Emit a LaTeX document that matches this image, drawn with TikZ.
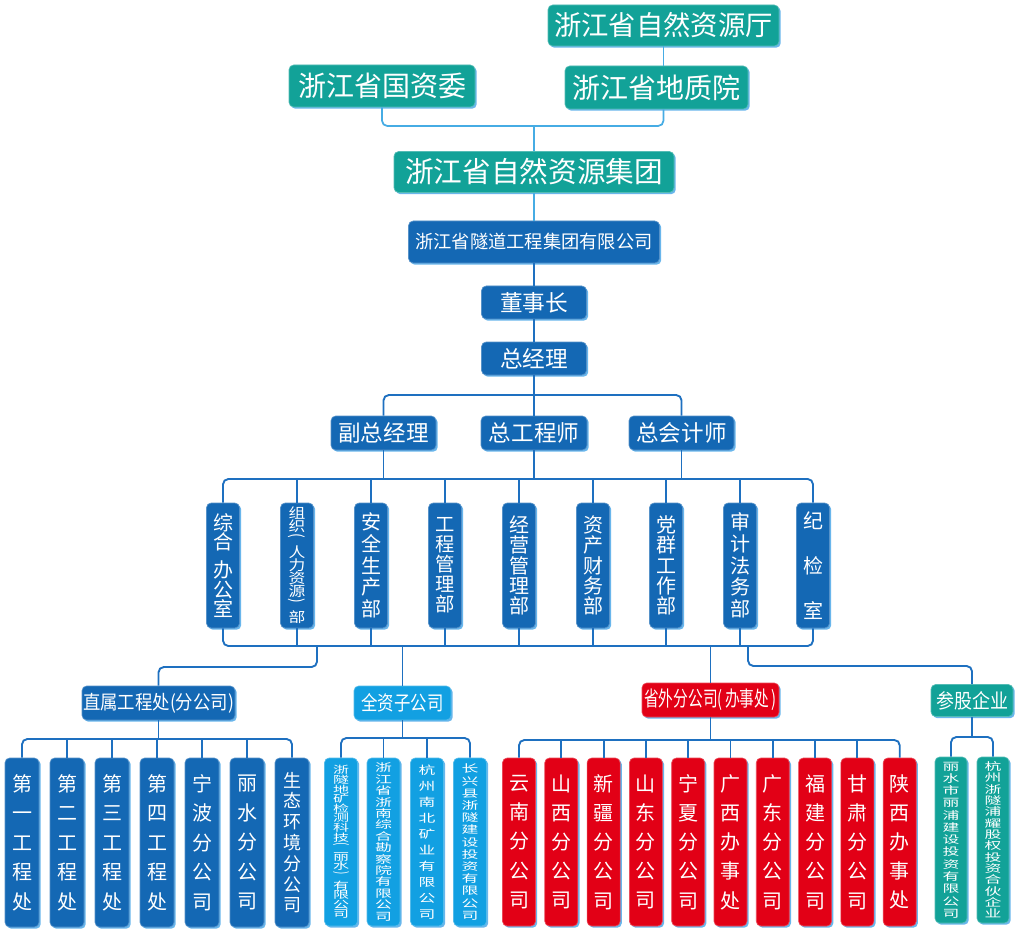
\documentclass[tikz,border=0pt]{standalone}
\usepackage{fontspec}
\usepackage{graphicx}
\setmainfont{Noto Sans CJK SC}
\usetikzlibrary{shadows}
\definecolor{teal1}{RGB}{18,162,152}
\definecolor{blue1}{RGB}{20,104,180}
\definecolor{lblue}{RGB}{18,160,226}
\definecolor{red1}{RGB}{226,0,22}
\definecolor{lineblue}{RGB}{30,112,192}
\definecolor{linecyan}{RGB}{70,172,228}
\definecolor{shad}{RGB}{105,182,236}
\newlength\vgapamt \setlength\vgapamt{6.5pt}
\def\vgap{}
\def\vlp{\raisebox{0.3em}{\rotatebox[origin=c]{-90}{(}}}
\def\vrp{\raisebox{0.3em}{\rotatebox[origin=c]{-90}{)}}}
\def\vstkA#1{\ifx#1\relax\else\ifx#1\vgap\vskip\vgapamt\relax\else\hbox to 0pt{\hss#1\hss}\fi\expandafter\vstkA\fi}
\newcommand\vstk[1]{\vbox{\lineskiplimit=-\maxdimen\lineskip=0pt\vstkA#1\relax}}
\newcommand\vst[2]{\scalebox{#1}[1]{\vstk{#2}}}
\newcommand\hx[2]{\scalebox{#1}[1]{#2}}
\tikzset{
  ob/.style={rectangle, rounded corners=3.5pt, fill=#1, draw=#1!72!white, line width=0.5pt,
    text=white, inner sep=0pt,
    drop shadow={shadow xshift=1.3pt, shadow yshift=-1.3pt, fill=shad, opacity=1}},
  sz/.style 2 args={minimum width={(#1)*0.75pt}, minimum height={(#2)*0.75pt}},
  conn/.style={draw=lineblue, line width=1.4pt, rounded corners=4pt},
  connc/.style={draw=linecyan, line width=1.3pt, rounded corners=4pt},
  dept/.style={ob=blue1, sz={33}{125}, font=\fontsize{15}{16.3}\selectfont},
  zkid/.style={ob=blue1, sz={34}{169}, font=\fontsize{15}{22.1}\selectfont},
  qkid/.style={ob=lblue, sz={33}{168}},
  rkid/.style={ob=red1, sz={33}{168}, font=\fontsize{15}{21.9}\selectfont},
  tkid/.style={ob=teal1, sz={32}{166}},
}
\begin{document}
\begin{tikzpicture}[x=0.75pt,y=-0.75pt]
\fill[white] (0,0) rectangle (1021,934);
\useasboundingbox (0,0) rectangle (1021,934);

% ---------- top ----------
\node[ob=teal1, sz={231}{41}, font=\fontsize{20.5}{24}\selectfont] (ting) at (663.5,25.5) {浙江省自然资源厅};
\node[ob=teal1, sz={186}{42}, font=\fontsize{21}{24}\selectfont] (gzw) at (382,86) {浙江省国资委};
\node[ob=teal1, sz={183}{43}, font=\fontsize{21}{24}\selectfont] (dzy) at (656.5,87.5) {浙江省地质院};
\node[ob=teal1, sz={280}{41}, font=\fontsize{21.5}{24}\selectfont] (jt) at (534,172) {浙江省自然资源集团};
\node[ob=blue1, sz={251}{42}, font=\fontsize{13.7}{16}\selectfont] (sd) at (534,242) {浙江省隧道工程集团有限公司};
\node[ob=blue1, sz={105}{33}, font=\fontsize{17}{20}\selectfont] (dsz) at (534,302.5) {董事长};
\node[ob=blue1, sz={105}{33}, font=\fontsize{17}{20}\selectfont] (zjl) at (534,358.5) {总经理};
\node[ob=blue1, sz={105}{34}, font=\fontsize{16.9}{20}\selectfont] (fz) at (383.5,433) {副总经理};
\node[ob=blue1, sz={106}{34}, font=\fontsize{16.9}{20}\selectfont] (zgc) at (534,433) {总工程师};
\node[ob=blue1, sz={105}{34}, font=\fontsize{16.9}{20}\selectfont] (zkj) at (681.5,433) {总会计师};

% ---------- departments ----------
\node[dept, font=\fontsize{15}{14.6}\selectfont] (d1) at (223,565.5) {\vstk{综合\vgap 办公室}};
\node[dept, font=\fontsize{10.5}{9.75}\selectfont] (d2) at (297,565.5) {\vst{1.2}{组织\vlp 人力资源\vrp 部}};
\node[dept] (d3) at (371,565.5) {\vstk{安全生产部}};
\node[dept, font=\fontsize{14.5}{15}\selectfont] (d4) at (445,565.5) {\vstk{工程管理部}};
\node[dept, font=\fontsize{15}{15.3}\selectfont] (d5) at (519,565.5) {\vstk{经营管理部}};
\node[dept, font=\fontsize{15}{15.3}\selectfont] (d6) at (593,565.5) {\vstk{资产财务部}};
\node[dept, font=\fontsize{15}{15.3}\selectfont] (d7) at (666,565.5) {\vstk{党群工作部}};
\node[dept] (d8) at (740,565.5) {\vstk{审计法务部}};
\node[dept, font=\fontsize{15}{34}\selectfont] (d9) at (813,565.5) {\vstk{纪检室}};

% ---------- second level groups ----------
\node[ob=blue1, sz={153}{34}, font=\fontsize{14.5}{17}\selectfont] (zs) at (158.5,703) {\hx{0.9}{直属工程处(分公司)}};
\node[ob=lblue, sz={97}{34}, font=\fontsize{15}{17}\selectfont] (qz) at (402.5,703) {\hx{0.82}{全资子公司}};
\node[ob=red1, sz={137}{34}, font=\fontsize{15.75}{17}\selectfont] (sw) at (710.5,700) {\hx{0.7}{省外分公司(\,办事处\,)}};
\node[ob=teal1, sz={82}{32}, font=\fontsize{15}{17}\selectfont] (cg) at (972,700.5) {\hx{0.9}{参股企业}};

% ---------- children ----------
\node[zkid] (z1) at (22,842.5) {\vstk{第一工程处}};
\node[zkid] (z2) at (67,842.5) {\vstk{第二工程处}};
\node[zkid] (z3) at (112,842.5) {\vstk{第三工程处}};
\node[zkid] (z4) at (157,842.5) {\vstk{第四工程处}};
\node[zkid] (z5) at (202,842.5) {\vstk{宁波分公司}};
\node[zkid] (z6) at (247,842.5) {\vstk{丽水分公司}};
\node[zkid, font=\fontsize{13.5}{15.6}\selectfont] (z7) at (292,842.5) {\vstk{生态环境分公司}};

\node[qkid, font=\fontsize{7.5}{7.2}\selectfont] (q1) at (341,842) {\vst{1.6}{浙隧地矿检测科技\vlp 丽水\vrp 有限公司}};
\node[qkid, font=\fontsize{7.9}{8.55}\selectfont] (q2) at (383.5,842) {\vst{1.6}{浙江省浙南综合勘察院有限公司}};
\node[qkid, font=\fontsize{8.4}{12}\selectfont] (q3) at (427,842) {\vst{1.5}{杭州南北矿业有限公司}};
\node[qkid, font=\fontsize{7.9}{9.15}\selectfont] (q4) at (470,842) {\vst{1.6}{长兴县浙隧建设投资有限公司}};

\node[rkid] (r1) at (519,842) {\vstk{云南分公司}};
\node[rkid] (r2) at (561.3,842) {\vstk{山西分公司}};
\node[rkid] (r3) at (603.6,842) {\vstk{新疆分公司}};
\node[rkid] (r4) at (645.9,842) {\vstk{山东分公司}};
\node[rkid] (r5) at (688.2,842) {\vstk{宁夏分公司}};
\node[rkid] (r6) at (730.5,842) {\vstk{广西办事处}};
\node[rkid] (r7) at (772.8,842) {\vstk{广东分公司}};
\node[rkid] (r8) at (815.1,842) {\vstk{福建分公司}};
\node[rkid] (r9) at (857.4,842) {\vstk{甘肃分公司}};
\node[rkid] (r10) at (899.7,842) {\vstk{陕西办事处}};

\node[tkid, font=\fontsize{7.9}{9.2}\selectfont] (t1) at (951,840) {\vst{1.6}{丽水市丽浦建设投资有限公司}};
\node[tkid, font=\fontsize{7.9}{8.5}\selectfont] (t2) at (993,840) {\vst{1.6}{杭州浙隧浦耀股权投资合伙企业}};

% ---------- connectors ----------
\coordinate (bus0) at (534,126);
\draw[connc] (ting.south) -- (ting.south |- dzy.north);
\draw[connc] (gzw.south) |- (bus0) -| (ting.south |- dzy.south);
\draw[connc] (bus0) -- (jt.north);
\draw[connc] (jt.south) -- (sd.north);
\draw[conn] (sd.south) -- (dsz.north);
\draw[conn] (dsz.south) -- (zjl.north);

\coordinate (bus1) at (534,395);
\draw[conn] (fz.north) |- (bus1) -| (zkj.north);
\draw[conn] (zjl.south) -- (zgc.north);

\coordinate (bus2) at (534,479);
\draw[conn] (fz.south) -- (fz.south |- bus2);
\draw[conn] (zgc.south) -- (zgc.south |- bus2);
\draw[conn] (zkj.south) -- (zkj.south |- bus2);
\draw[conn] (d1.north) |- (bus2) -| (d9.north);
\foreach \k in {2,...,8} \draw[conn] (d\k.north) -- (d\k.north |- bus2);

\coordinate (bus3) at (534,646);
\draw[conn] (d1.south) |- (bus3) -| (d9.south);
\foreach \k in {2,...,8} \draw[conn] (d\k.south) -- (d\k.south |- bus3);
\coordinate (b3a) at (317,646);
\coordinate (b3ak) at (317,667);
\draw[conn] (b3a) -- (b3ak) -| (zs.north);
\draw[conn] (qz.north |- bus3) -- (qz.north);
\draw[conn] (sw.north |- bus3) -- (sw.north);
\coordinate (b3d) at (748,646);
\coordinate (b3dk) at (748,666);
\draw[conn] (b3d) -- (b3dk) -| (cg.north);

\coordinate (zsb) at (158.5,739);
\draw[conn] (zs.south) -- (zsb);
\draw[conn] (z1.north) |- (zsb) -| (z7.north);
\foreach \k in {2,...,6} \draw[conn] (z\k.north) -- (z\k.north |- zsb);

\coordinate (qzb) at (402.5,738);
\draw[conn] (qz.south) -- (qzb);
\draw[conn] (q1.north) |- (qzb) -| (q4.north);
\foreach \k in {2,3} \draw[conn] (q\k.north) -- (q\k.north |- qzb);

\coordinate (swb) at (710.5,740);
\draw[conn] (sw.south) -- (swb);
\draw[conn] (r1.north) |- (swb) -| (r10.north);
\foreach \k in {2,...,9} \draw[conn] (r\k.north) -- (r\k.north |- swb);

\coordinate (cgb) at (972,737);
\draw[conn] (cg.south) -- (cgb);
\draw[conn] (t1.north) |- (cgb) -| (t2.north);
\end{tikzpicture}
\end{document}
